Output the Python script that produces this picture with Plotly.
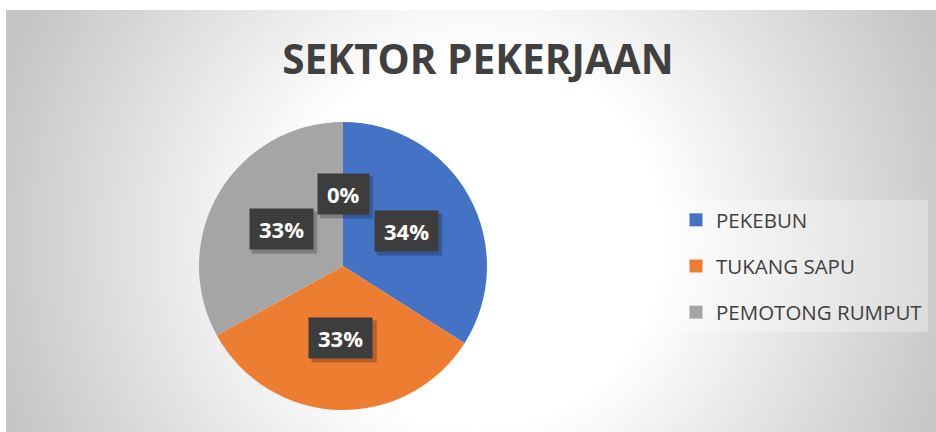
import base64
import struct
import zlib

import numpy as np
import plotly.graph_objects as go

# ---------------- data ----------------
title_text = "SEKTOR PEKERJAAN"
categories = ["PEKEBUN", "TUKANG SAPU", "PEMOTONG RUMPUT", ""]
values = [34, 33, 33, 0]
colors = ["#4472C4", "#ED7D31", "#A5A5A5", "#FFC000"]
legend_count = 3  # only first three categories listed in legend

# ---------------- geometry / style ----------------
W, H = 936, 432
pie_cx, pie_cy, pie_r = 343, 266, 144  # px, y from top
LABEL_SIZE = 22
CHAR_W = {"%": 0.87}  # em widths, digits default 0.572


def gradient_png(w, h, cx, cy, d0, d1, c0, c1):
    yy, xx = np.mgrid[0:h, 0:w]
    d = np.sqrt((xx - cx) ** 2 + (yy - cy) ** 2)
    t = np.clip((d - d0) / (d1 - d0), 0, 1)
    img = (c0 + (c1 - c0) * t).astype(np.uint8)
    raw = b"".join(b"\x00" + img[i].tobytes() for i in range(h))

    def chunk(tag, data):
        return (struct.pack(">I", len(data)) + tag + data
                + struct.pack(">I", zlib.crc32(tag + data) & 0xFFFFFFFF))

    png = (b"\x89PNG\r\n\x1a\n"
           + chunk(b"IHDR", struct.pack(">IIBBBBB", w, h, 8, 0, 0, 0, 0))
           + chunk(b"IDAT", zlib.compress(raw, 9))
           + chunk(b"IEND", b""))
    return "data:image/png;base64," + base64.b64encode(png).decode()


bg_x0, bg_y0 = 6, 10
bg_w, bg_h = W - bg_x0, H - bg_y0
bg_src = gradient_png(bg_w, bg_h, 475 - bg_x0, 240 - bg_y0, 190, 500, 255, 197)

fig = go.Figure()

fig.add_trace(go.Pie(
    labels=categories,
    values=values,
    marker=dict(colors=colors, line=dict(width=0)),
    sort=False,
    direction="clockwise",
    rotation=0,
    textinfo="none",
    hoverinfo="label+percent",
    showlegend=False,
    domain=dict(x=[(pie_cx - pie_r) / W, (pie_cx + pie_r) / W],
                y=[(H - pie_cy - pie_r) / H, (H - pie_cy + pie_r) / H]),
))

# legend entries (one per listed category)
for name, col in zip(categories[:legend_count], colors[:legend_count]):
    fig.add_trace(go.Scatter(
        x=[None], y=[None], mode="markers", name=name, legendgroup=name,
        marker=dict(symbol="square", size=13, color=col),
        hoverinfo="skip",
    ))

# data labels in dark boxes at half radius, mid-angle of each slice
total = sum(values)
cum = 0.0
shapes = []
annotations = []
for v in values:
    frac = v / total
    mid = (cum + frac / 2) * 2 * np.pi
    cum += frac
    px = pie_cx + 0.5 * pie_r * np.sin(mid)
    py = pie_cy - 0.5 * pie_r * np.cos(mid)
    label = f"{int(frac * 100 + 0.5)}%"
    tw = sum(CHAR_W.get(ch, 0.572) for ch in label) * LABEL_SIZE
    bw, bh = tw + 19, 40
    # soft shadow behind the box
    for k, a in ((4, 0.10), (3, 0.14)):
        shapes.append(dict(
            type="rect", xref="paper", yref="paper", layer="above",
            x0=(px - bw / 2 + k - 1) / W, x1=(px + bw / 2 + k + 1) / W,
            y0=1 - (py + bh / 2 + k + 1) / H, y1=1 - (py - bh / 2 + k - 1) / H,
            fillcolor=f"rgba(0,0,0,{a})", line=dict(width=0)))
    annotations.append(dict(
        x=px / W, y=1 - py / H, xref="paper", yref="paper",
        showarrow=False, text=label, height=bh - 18, borderpad=9,
        xanchor="center", yanchor="middle", bgcolor="#3d3d3d",
        font=dict(family="Open Sans", size=LABEL_SIZE, color="#ffffff",
                  weight="bold")))

fig.update_layout(
    width=W, height=H,
    margin=dict(l=0, r=0, t=0, b=0),
    paper_bgcolor="#ffffff",
    plot_bgcolor="rgba(0,0,0,0)",
    xaxis=dict(visible=False),
    yaxis=dict(visible=False),
    title=dict(text=title_text, x=478 / W, xanchor="center",
               y=1 - 60 / H, yanchor="middle",
               font=dict(family="Open Sans", size=40.5, color="#404040",
                         weight="bold")),
    legend=dict(x=676 / W, xanchor="left", y=1 - 200 / H, yanchor="top",
                bgcolor="rgba(255,255,255,0.3)",
                font=dict(family="Open Sans", size=20.5, color="#404040"),
                tracegroupgap=16.5, itemclick=False),
    images=[dict(source=bg_src, xref="paper", yref="paper",
                 x=bg_x0 / W, y=1 - bg_y0 / H,
                 sizex=bg_w / W, sizey=bg_h / H,
                 xanchor="left", yanchor="top", sizing="stretch",
                 layer="below")],
    shapes=shapes,
    annotations=annotations,
)

fig.write_html("out.html",
               config={"displayModeBar": False},
               post_script="document.body.style.margin='0';"
                           "document.body.style.overflow='hidden';")
